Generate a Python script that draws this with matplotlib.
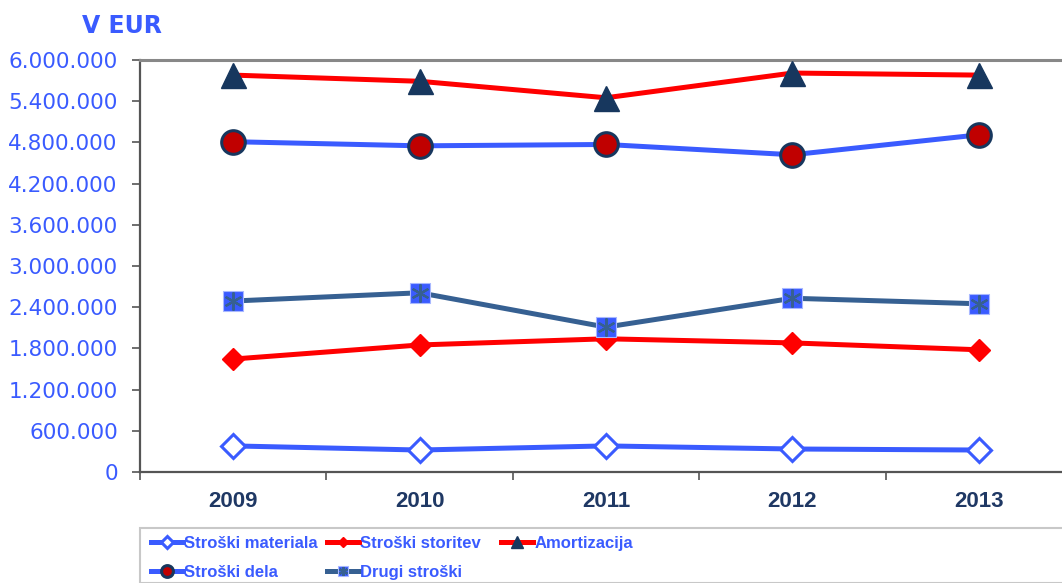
import matplotlib
matplotlib.use('Agg')
import matplotlib.pyplot as plt
from matplotlib.patches import Rectangle
from matplotlib.ticker import FuncFormatter, MultipleLocator
import numpy as np

# Data (EUR)
years = ['2009', '2010', '2011', '2012', '2013']
materiala = [380000, 320000, 380000, 335000, 320000]
storitev = [1645000, 1850000, 1940000, 1880000, 1780000]
amortizacija = [5780000, 5690000, 5450000, 5810000, 5780000]
dela = [4810000, 4750000, 4770000, 4620000, 4910000]
drugi = [2490000, 2610000, 2110000, 2530000, 2450000]

BLUE = '#3a5bff'
RED = '#ff0000'
NAVY = '#17375e'
DARKRED = '#c00000'
STEEL = '#366092'
LABEL_NAVY = '#1f3864'

W, H = 1062, 583
fig = plt.figure(figsize=(W / 100, H / 100), dpi=100)
# axes box in pixel coordinates, right edge runs past the figure like the original
left, right, top, bottom = 140, 1072, 60, 472
ax = fig.add_axes([left / W, (H - bottom) / H, (right - left) / W, (bottom - top) / H])

x = np.arange(len(years))
lw = 3.6

l_mat, = ax.plot(x, materiala, color=BLUE, lw=lw, marker='D', ms=12.5,
                 mfc='white', mec=BLUE, mew=2.2, zorder=3)
l_sto, = ax.plot(x, storitev, color=RED, lw=lw, marker='D', ms=11,
                 mfc=RED, mec=RED, zorder=3)
l_amo, = ax.plot(x, amortizacija, color=RED, lw=lw, marker='^', ms=18,
                 mfc=NAVY, mec=NAVY, zorder=3)
l_del, = ax.plot(x, dela, color=BLUE, lw=lw, marker='o', ms=17,
                 mfc=DARKRED, mec=NAVY, mew=2.2, zorder=3)
l_dru, = ax.plot(x, drugi, color=STEEL, lw=lw, marker='s', ms=14,
                 mfc=BLUE, mec='#a8b8ff', mew=0.8, zorder=3)
l_ast, = ax.plot(x, drugi, ls='none', marker=(6, 2, 0), ms=13,
                 mec=STEEL, mew=1.6, zorder=4)

ax.set_xlim(-0.5, len(years) - 0.5)
ax.set_ylim(0, 6000000)
ax.yaxis.set_major_locator(MultipleLocator(600000))
ax.yaxis.set_major_formatter(FuncFormatter(lambda v, p: f'{int(v):,}'.replace(',', '.')))

ax.set_xticks(x)
ax.set_xticklabels(years, fontfamily='Liberation Sans', fontweight='bold',
                   fontsize=16, color=LABEL_NAVY)
ax.set_xticks(np.arange(len(years) + 1) - 0.5, minor=True)
ax.tick_params(axis='x', which='major', length=0, pad=14)
ax.tick_params(axis='x', which='minor', length=6, width=1.2, color='#555555')
ax.tick_params(axis='y', length=6, width=1.2, color='#555555', pad=10,
               labelsize=15.5, labelcolor=BLUE)

for side in ['left', 'bottom']:
    ax.spines[side].set_color('#555555')
    ax.spines[side].set_linewidth(1.6)
ax.spines['top'].set_color('#888888')
ax.spines['top'].set_linewidth(2.2)
ax.spines['right'].set_visible(False)

fig.text(82 / W, 1 - 26 / H, 'V EUR', fontsize=17, fontweight='bold',
         color=BLUE, va='center', ha='left')

# legend frame (runs past the bottom/right edges)
fig.patches.append(Rectangle((140 / W, 0), 1.0, (H - 528) / H,
                             transform=fig.transFigure, fill=False,
                             edgecolor='#c8c8c8', lw=1.5))

legend_font = {'family': 'Liberation Sans', 'weight': 'bold', 'size': 12}
columns = [
    ([l_mat, l_del], ['Stroški materiala', 'Stroški dela'], 151),
    ([l_sto, (l_dru, l_ast)], ['Stroški storitev', 'Drugi stroški'], 327),
    ([l_amo], ['Amortizacija'], 501),
]
for handles, labels, xpos in columns:
    leg = fig.legend(handles, labels, loc='upper left',
                     bbox_to_anchor=(xpos / W, 1 - 536 / H),
                     frameon=False, prop=legend_font, handlelength=1.9,
                     handletextpad=0.1, borderpad=0, borderaxespad=0,
                     labelspacing=0.85, markerscale=0.5)
    for t in leg.get_texts():
        t.set_color(BLUE)

fig.savefig('out.png', dpi=100)
